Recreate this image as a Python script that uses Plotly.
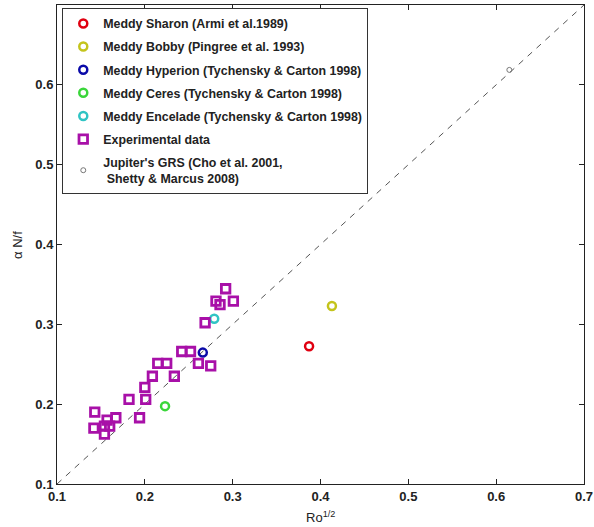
import plotly.graph_objects as go

# Data
exp_x = [0.143, 0.142, 0.157, 0.154, 0.160, 0.167, 0.154, 0.182, 0.194, 0.200, 0.201,
         0.2086, 0.2336, 0.2147, 0.2249, 0.242, 0.252, 0.261, 0.275, 0.2686,
         0.281, 0.2856, 0.292, 0.3008]
exp_y = [0.190, 0.170, 0.180, 0.1725, 0.1725, 0.183, 0.1625, 0.206, 0.183, 0.221, 0.206,
         0.235, 0.235, 0.251, 0.251, 0.266, 0.266, 0.251, 0.248, 0.302,
         0.329, 0.3246, 0.3446, 0.329]

meddy_names = ["Meddy Sharon (Armi et al.1989)",
               "Meddy Bobby (Pingree et al. 1993)",
               "Meddy Hyperion (Tychensky & Carton 1998)",
               "Meddy Ceres (Tychensky & Carton 1998)",
               "Meddy Encelade (Tychensky & Carton 1998)"]
meddy_x = [0.387, 0.413, 0.266, 0.223, 0.279]
meddy_y = [0.2725, 0.323, 0.2646, 0.1975, 0.307]
meddy_colors = ["#e00010", "#c4c41c", "#0a0aa8", "#3ad63a", "#30c4c4"]

jup_x = [0.615]
jup_y = [0.6187]

line_x = [0.1, 0.7]
line_y = [0.1, 0.7]

xticks = [0.1, 0.2, 0.3, 0.4, 0.5, 0.6, 0.7]
yticks = [0.1, 0.2, 0.3, 0.4, 0.5, 0.6]

x_title = "Ro<sup>1/2</sup>"
y_title = "α N/f"

font_family = "Liberation Sans, Arial, Helvetica, sans-serif"

fig = go.Figure()

fig.add_trace(go.Scatter(x=line_x, y=line_y, mode="lines",
                         line=dict(color="#555555", width=1, dash="6px,6px"),
                         showlegend=False, hoverinfo="skip"))

for i, (n, xx, yy, c) in enumerate(zip(meddy_names, meddy_x, meddy_y, meddy_colors)):
    fig.add_trace(go.Scatter(x=[xx], y=[yy], mode="markers", name=n, legendgroup=f"g{i}",
                             marker=dict(symbol="circle-open", size=8, color=c,
                                         line=dict(width=2.5, color=c))))

fig.add_trace(go.Scatter(x=exp_x, y=exp_y, mode="markers", name="Experimental data",
                         legendgroup="g5",
                         marker=dict(symbol="square-open", size=8.5, color="#a810a8",
                                     line=dict(width=2.8, color="#a810a8"))))

fig.add_trace(go.Scatter(x=jup_x, y=jup_y, mode="markers",
                         name="Jupiter's GRS (Cho et al. 2001,<br> Shetty & Marcus 2008)",
                         legendgroup="g6",
                         marker=dict(symbol="circle-open", size=5, color="#777777",
                                     line=dict(width=1, color="#777777"))))

axis_common = dict(showline=True, linecolor="#222222", linewidth=1, mirror="ticks",
                   ticks="inside", ticklen=5, tickcolor="#222222", showgrid=False,
                   zeroline=False, automargin=False,
                   tickfont=dict(family=font_family, size=13, color="#222222", weight="bold"))

fig.update_xaxes(range=[0.1, 0.7], tickvals=xticks, ticktext=[f"{v:.1f}" for v in xticks],
                 **axis_common)
fig.update_yaxes(range=[0.1, 0.7], tickvals=yticks, ticktext=[f"{v:.1f}" for v in yticks],
                 **axis_common)

fig.add_annotation(text=x_title, xref="paper", yref="paper", x=0.5, y=-0.048,
                   xanchor="center", yanchor="top", showarrow=False,
                   font=dict(family=font_family, size=13, color="#222222"))
fig.add_annotation(text=y_title, xref="paper", yref="paper", x=-0.075, y=0.5,
                   xanchor="center", yanchor="middle", showarrow=False, textangle=-90,
                   font=dict(family=font_family, size=13, color="#222222"))

fig.update_layout(
    width=594, height=527,
    margin=dict(l=57, r=10, t=5, b=43),
    plot_bgcolor="white", paper_bgcolor="white",
    legend=dict(x=0.01, y=0.994, xanchor="left", yanchor="top",
                bordercolor="#333333", borderwidth=1, bgcolor="white",
                tracegroupgap=4,
                font=dict(family=font_family, size=12.4, color="#222222", weight="bold")),
)

fig.write_html("out.html", config={"displayModeBar": False},
               post_script="document.body.style.margin='0';")
